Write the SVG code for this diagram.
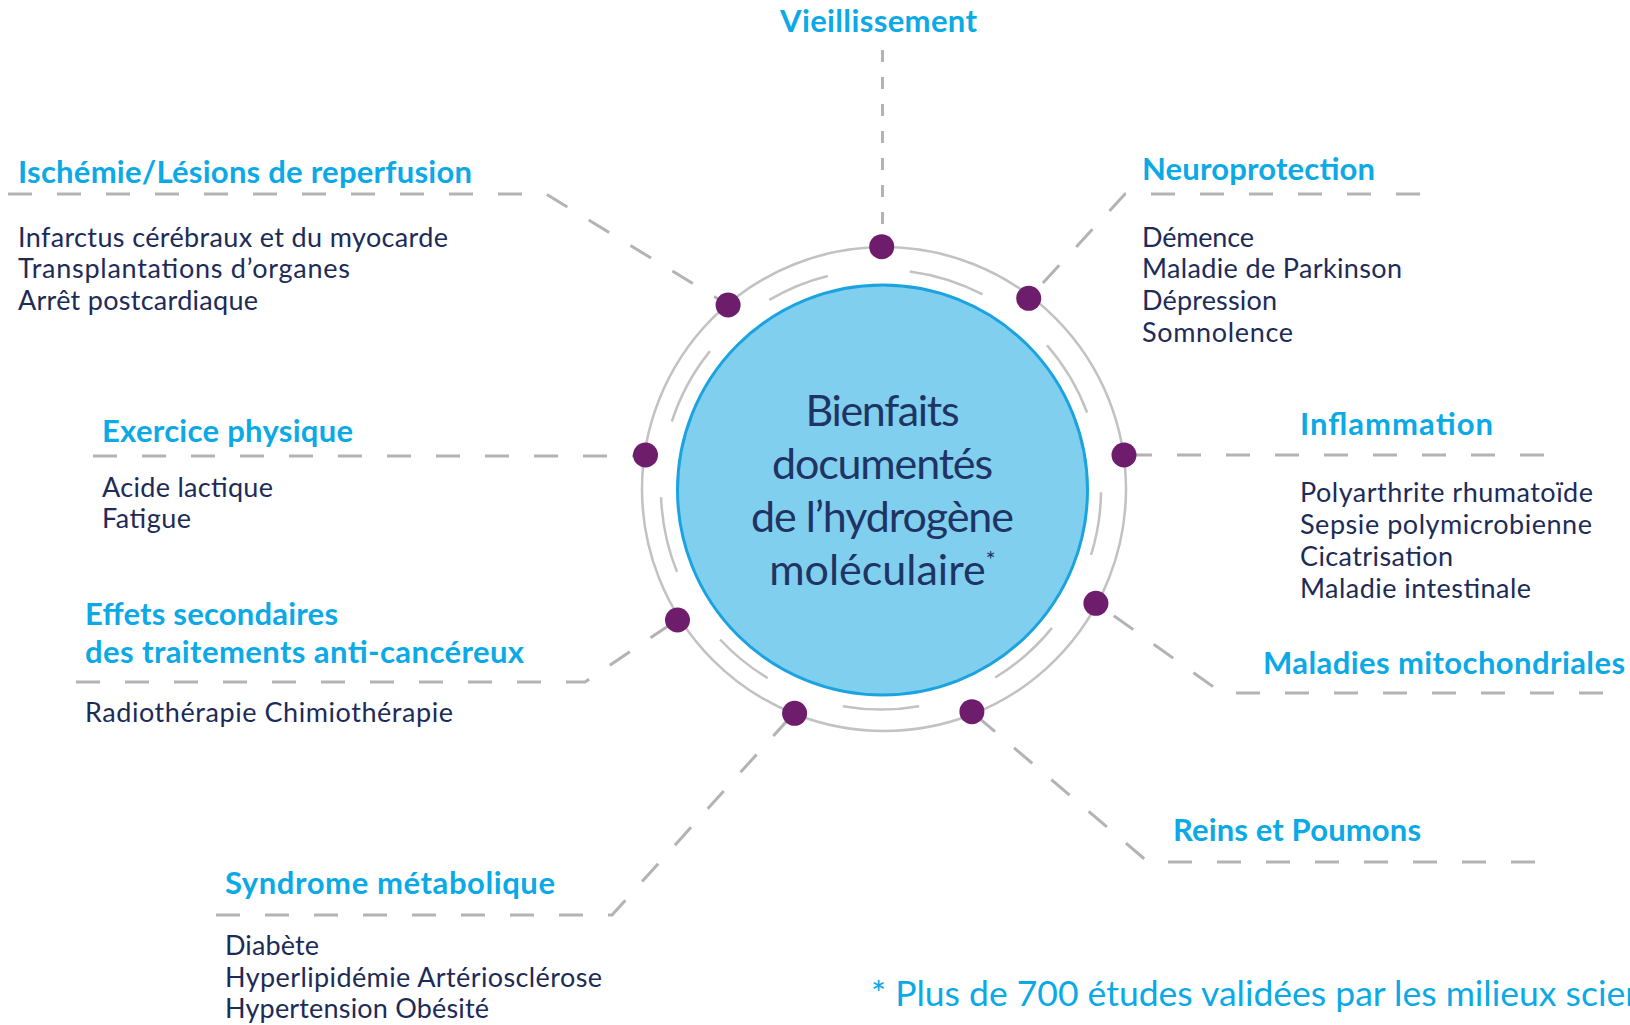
<svg xmlns="http://www.w3.org/2000/svg" width="1630" height="1025" viewBox="0 0 1630 1025">
<style>
.h{font-family:Lato,"Liberation Sans",sans-serif;font-weight:700;font-size:31px;fill:#0ba9e6}
.b{font-family:Lato,"Liberation Sans",sans-serif;font-size:27px;fill:#1d2b58}
.c{font-family:Lato,"Liberation Sans",sans-serif;font-size:43px;fill:#1f3463}
.f{font-family:Lato,"Liberation Sans",sans-serif;font-size:35.5px;fill:#0ba9e6}
.con{fill:none;stroke:#b3b3b3;stroke-width:3;stroke-dasharray:24 25}
.ring{fill:none;stroke:#c2c2c2;stroke-width:2.5}
.dot{fill:#6e1d6c}
</style>
<rect width="1630" height="1025" fill="#ffffff"/>
<g id="connectors">
<path class="con" style="stroke-dasharray:12 15" d="M882.5 50 V233"/>
<path class="con" d="M8 194 H546 L728 305"/>
<path class="con" d="M1420 194 H1125 L1029 298"/>
<path class="con" d="M93 456 H645"/>
<path class="con" d="M1544 455 H1124"/>
<path class="con" d="M1603 693 H1222 L1096 603"/>
<path class="con" d="M76 682 H585 L677 620"/>
<path class="con" d="M216 915 H612 L794 713"/>
<path class="con" d="M1535 862 H1148 L972 712"/>
</g>
<g id="hub">
<circle class="ring" cx="884" cy="489" r="242"/>
<g class="ring" transform="translate(-2.5,0)">
<path d="M771.8 299.9 A220 220 0 0 1 830.3 276"/>
<path d="M912.2 271.4 A220 220 0 0 1 985.1 294.4"/>
<path d="M1049.5 345.2 A220 220 0 0 1 1089.6 412.5"/>
<path d="M1103.5 492.2 A220 220 0 0 1 1093.6 554.9"/>
<path d="M1054.5 627.9 A220 220 0 0 1 997.8 677.5"/>
<path d="M921.7 706.2 A220 220 0 0 1 845.3 706.2"/>
<path d="M770.2 678.1 A220 220 0 0 1 722.6 639.5"/>
<path d="M679.5 571.9 A220 220 0 0 1 663.6 497.2"/>
<path d="M674.3 421.5 A220 220 0 0 1 712.5 351.1"/>
</g>
<circle cx="882.5" cy="490" r="205" fill="#80cfee" stroke="#1ba3e0" stroke-width="3"/>
<text class="c" x="882.5" y="426" text-anchor="middle" textLength="154">Bienfaits</text>
<text class="c" x="882.5" y="479" text-anchor="middle" textLength="221">documentés</text>
<text class="c" x="882.5" y="532" text-anchor="middle" textLength="263">de l’hydrogène</text>
<text class="c" x="882.5" y="585" text-anchor="middle">moléculaire<tspan font-size="24" dy="-17">*</tspan></text>
</g>
<g id="dots">
<circle class="dot" cx="881.7" cy="246.7" r="12.5"/>
<circle class="dot" cx="728.1" cy="305" r="12.5"/>
<circle class="dot" cx="1028.7" cy="298.3" r="12.5"/>
<circle class="dot" cx="645.5" cy="455" r="12.5"/>
<circle class="dot" cx="1124" cy="455" r="12.5"/>
<circle class="dot" cx="1095.9" cy="603.3" r="12.5"/>
<circle class="dot" cx="677.5" cy="620" r="12.5"/>
<circle class="dot" cx="794.6" cy="713.3" r="12.5"/>
<circle class="dot" cx="971.9" cy="711.7" r="12.5"/>
</g>
<g id="vieillissement">
<text class="h" x="780" y="32" textLength="197">Vieillissement</text>
</g>
<g id="ischemie">
<text class="h" x="18" y="183" textLength="454">Ischémie/Lésions de reperfusion</text>
<text class="b" x="18" y="247" textLength="430">Infarctus cérébraux et du myocarde</text>
<text class="b" x="18" y="278.3" textLength="332">Transplantations d’organes</text>
<text class="b" x="18" y="309.6" textLength="240">Arrêt postcardiaque</text>
</g>
<g id="neuroprotection">
<text class="h" x="1142" y="180" textLength="233">Neuroprotection</text>
<text class="b" x="1142" y="246.7" textLength="112">Démence</text>
<text class="b" x="1142" y="278" textLength="260">Maladie de Parkinson</text>
<text class="b" x="1142" y="310" textLength="135">Dépression</text>
<text class="b" x="1142" y="341.7" textLength="151">Somnolence</text>
</g>
<g id="exercice">
<text class="h" x="102" y="442" textLength="251">Exercice physique</text>
<text class="b" x="102" y="496.7" textLength="171">Acide lactique</text>
<text class="b" x="102" y="528" textLength="89">Fatigue</text>
</g>
<g id="inflammation">
<text class="h" x="1300" y="435" textLength="193">Inflammation</text>
<text class="b" x="1300" y="502" textLength="293">Polyarthrite rhumatoïde</text>
<text class="b" x="1300" y="533.5" textLength="292">Sepsie polymicrobienne</text>
<text class="b" x="1300" y="565.5" textLength="153">Cicatrisation</text>
<text class="b" x="1300" y="597.5" textLength="231">Maladie intestinale</text>
</g>
<g id="effets">
<text class="h" x="85" y="625" textLength="253">Effets secondaires</text>
<text class="h" x="85" y="663" textLength="439">des traitements anti-cancéreux</text>
<text class="b" x="85" y="721.7" textLength="368">Radiothérapie Chimiothérapie</text>
</g>
<g id="mitochondriales">
<text class="h" x="1263" y="674" textLength="362">Maladies mitochondriales</text>
</g>
<g id="reins">
<text class="h" x="1173" y="841" textLength="248">Reins et Poumons</text>
</g>
<g id="syndrome">
<text class="h" x="225" y="894" textLength="330">Syndrome métabolique</text>
<text class="b" x="225" y="955" textLength="94">Diabète</text>
<text class="b" x="225" y="986.5" textLength="377">Hyperlipidémie Artériosclérose</text>
<text class="b" x="225" y="1018" textLength="264">Hypertension Obésité</text>
</g>
<g id="footnote">
<text class="f" x="871" y="1006">* Plus de 700 études validées par les milieux scientifiques</text>
</g>
</svg>
